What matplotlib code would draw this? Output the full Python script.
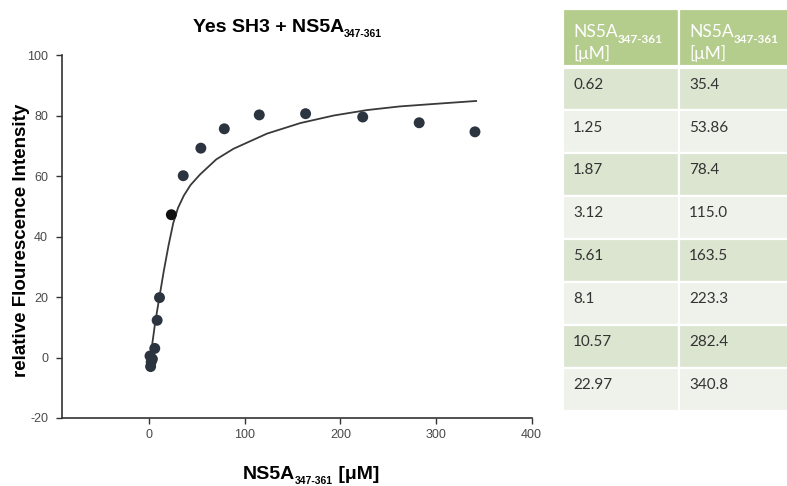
import numpy as np
import matplotlib.pyplot as plt
from matplotlib.patches import Rectangle

plt.rcParams["axes.unicode_minus"] = False

# measured points
conc = [0.62, 1.25, 1.87, 3.12, 5.61, 8.1, 10.57, 22.97,
        35.4, 53.86, 78.4, 115.0, 163.5, 223.3, 282.4, 340.8]
fluor = [0.5, -3.0, -1.5, -0.5, 3.0, 12.3, 19.8, 47.2,
         60.1, 69.2, 75.6, 80.2, 80.6, 79.5, 77.6, 74.6]

# fitted curve
fit_x = [0.5, 3, 6, 10.5, 15, 20, 25, 30, 36, 43, 53, 70, 88,
         123, 158, 193, 228, 262, 297, 342]
fit_y = [-2.5, 4.5, 11.5, 20, 28.5, 37, 44.5, 49.5, 53.5, 57, 60.5, 65.5,
         69, 74, 77.5, 80, 81.8, 83, 83.8, 84.8]

# table
col1 = ["0.62", "1.25", "1.87", "3.12", "5.61", "8.1", "10.57", "22.97"]
col2 = ["35.4", "53.86", "78.4", "115.0", "163.5", "223.3", "282.4", "340.8"]

W, H = 787, 486
fig = plt.figure(figsize=(W / 100, H / 100), dpi=100)

ax = fig.add_axes([62 / W, 1 - 418 / H, (532 - 62) / W, (418 - 55) / H])
ax.plot(fit_x, fit_y, color="#3a3a3a", lw=1.3, zorder=2)
colors = ["#2c3440"] * len(conc)
colors[7] = "#111111"
ax.scatter(conc, fluor, s=62, c=colors, zorder=3, linewidths=0)
ax.set_xlim(-91.5, 400.5)
ax.set_ylim(-20, 100)
ax.set_xticks([0, 100, 200, 300, 400])
ax.set_yticks([-20, 0, 20, 40, 60, 80, 100])
for s in ["top", "right"]:
    ax.spines[s].set_visible(False)
for s in ["left", "bottom"]:
    ax.spines[s].set_color("#333333")
    ax.spines[s].set_linewidth(1.2)
ax.tick_params(length=4, width=1, color="#333333", labelcolor="#4a4a4a",
               labelsize=9, pad=6)
ax.tick_params(axis="x", pad=4)
for lab in ax.get_xticklabels() + ax.get_yticklabels():
    lab.set_family("Liberation Sans")

lbl = dict(family="Liberation Sans", weight="bold", color="black")

# title with subscript
t = fig.text(193 / W, 1 - 27 / H, "Yes SH3 + NS5A", fontsize=14, va="center",
             ha="left", **lbl)
ax.annotate("347-361", xy=(1, 0.4), xycoords=t, fontsize=7.5, va="top",
            ha="left", **lbl)

# x label: NS5A, subscript, unit
t2 = fig.text(243 / W, 1 - 474 / H, "NS5A", fontsize=14, va="center",
              ha="left", **lbl)
t3 = ax.annotate("347-361", xy=(1, 0.4), xycoords=t2, fontsize=7.5,
                 va="top", ha="left", **lbl)
ax.annotate(" [\u03bcM]", xy=(1, 0), xycoords=t3, fontsize=14,
            va="baseline", ha="left", xytext=(0, 4.5),
            textcoords="offset points", **lbl)

# y label
fig.text(22 / W, 1 - 240 / H, "relative Flourescence Intensity", fontsize=13.5,
         rotation=90, va="center", ha="center", **lbl)

# table drawn in its own axes, one unit = one row / one column
tab = fig.add_axes([563 / W, 1 - 411 / H, 226 / W, (411 - 9) / H])
tab.axis("off")
row_h = 42.6
head_h = 58 / row_h
tab.set_xlim(0, 226 / 116)
tab.set_ylim(head_h + len(col1), 0)

head_col = "#b4cc8c"
dark = "#dbe5d0"
light = "#eef2ea"
for c in range(2):
    tab.add_patch(Rectangle((c, 0), 1, head_h, facecolor=head_col,
                            edgecolor="white", lw=1.6))
    hx = c + 10 / 116
    h1 = tab.text(hx, 23 / row_h, "NS5A", family="Lato", fontsize=12.5,
                  color="white", va="center", ha="left")
    tab.annotate("347-361", xy=(1, 0.4), xycoords=h1, family="Lato",
                 fontsize=8.5, color="white", weight="bold", va="top",
                 ha="left")
    tab.text(hx, 44 / row_h, "[\u03bcM]", family="Lato", fontsize=12.5,
             color="white", va="center", ha="left")

for i, (a, b) in enumerate(zip(col1, col2)):
    y0 = head_h + i
    fc = dark if i % 2 == 0 else light
    for c, val in enumerate([a, b]):
        tab.add_patch(Rectangle((c, y0), 1, 1, facecolor=fc,
                                edgecolor="white", lw=1.6))
        tab.text(c + 10 / 116, y0 + 17 / row_h, val, family="Lato",
                 fontsize=11, color="#333333", va="center", ha="left")
tab.plot([0, 2], [head_h, head_h], color="white", lw=3)

fig.savefig("out.png", dpi=100)
